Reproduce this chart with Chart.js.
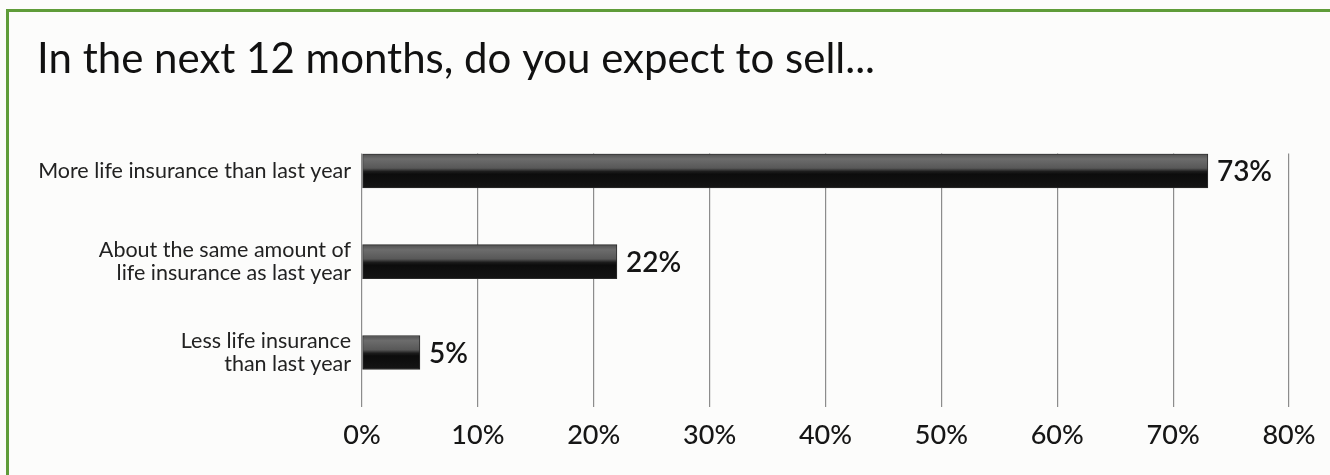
<!DOCTYPE html>
<html>
<head>
<meta charset="utf-8">
<script src="https://cdn.jsdelivr.net/npm/chart.js@4"></script>
<style>
  html, body { margin: 0; padding: 0; background: #fcfcfb; }
  #wrap { position: relative; width: 1330px; height: 475px; overflow: hidden; }
  #frame {
    position: absolute; left: 6px; top: 9px; width: 1400px; height: 600px;
    border-top: 3px solid #5f9c39; border-left: 3px solid #5f9c39;
  }
  canvas { position: absolute; left: 0; top: 0; }
</style>
</head>
<body>
<div id="wrap">
  <div id="frame"></div>
  <canvas id="chart" width="1330" height="475"></canvas>
</div>
<script>
// answers, in the order they are listed
const answers = [
  ['More life insurance than last year'],
  ['About the same amount of', 'life insurance as last year'],
  ['Less life insurance', 'than last year']
];
const shares = [73, 22, 5];          // percent of respondents
const pctTicks = [0, 10, 20, 30, 40, 50, 60, 70, 80];

const BAR_H = 34;
const FONT = 'Lato, "Open Sans", sans-serif';

// grey-over-black fill, computed per bar from the y scale
function barFill(ctx) {
  const chart = ctx.chart;
  const ys = chart.scales.y;
  if (!chart.chartArea || !ys) return '#222';
  const c = ys.getPixelForValue(ctx.dataIndex);
  const g = chart.ctx.createLinearGradient(0, c - BAR_H / 2, 0, c + BAR_H / 2);
  g.addColorStop(0, '#505050');
  g.addColorStop(0.15, '#6c6c6c');
  g.addColorStop(0.42, '#585858');
  g.addColorStop(0.52, '#1c1c1c');
  g.addColorStop(0.6, '#0c0c0c');
  g.addColorStop(1, '#141414');
  return g;
}

// percent label to the right of each bar
const valueLabels = {
  id: 'valueLabels',
  afterDatasetsDraw(chart) {
    const ctx = chart.ctx;
    const meta = chart.getDatasetMeta(0);
    ctx.save();
    ctx.font = '600 28px ' + FONT;
    ctx.fillStyle = '#151515';
    ctx.textAlign = 'left';
    ctx.textBaseline = 'middle';
    meta.data.forEach((bar, i) => {
      ctx.fillText(shares[i] + '%', bar.x + 9, bar.y + 1);
    });
    ctx.restore();
  }
};

new Chart(document.getElementById('chart'), {
  type: 'bar',
  data: {
    datasets: [{
      data: shares.map((v, i) => ({ x: v, y: i })),
      backgroundColor: barFill,
      borderColor: '#2a2a2a',
      borderWidth: 1,
      borderSkipped: false,
      barThickness: BAR_H
    }]
  },
  options: {
    indexAxis: 'y',
    responsive: false,
    animation: false,
    layout: { padding: { left: 37, right: 41, top: 0, bottom: 0 } },
    plugins: {
      legend: { display: false },
      tooltip: { enabled: false },
      title: {
        display: true,
        text: 'In the next 12 months, do you expect to sell...',
        align: 'start',
        color: '#111',
        font: { family: FONT, size: 42, weight: 'normal' },
        padding: { top: 34, bottom: 69 }
      }
    },
    scales: {
      x: {
        type: 'linear',
        min: 0,
        max: 80,
        afterBuildTicks(scale) { scale.ticks = pctTicks.map(v => ({ value: v })); },
        grid: { color: '#8c8c8c', lineWidth: 1.2, drawTicks: false },
        border: { display: false },
        ticks: {
          color: '#161616',
          padding: 12,
          font: { family: FONT, size: 27, weight: '500' },
          callback: v => v + '%'
        },
        afterFit(scale) { scale.height = 68; }
      },
      y: {
        type: 'linear',
        offset: false,
        reverse: true,
        min: -0.192,
        max: 2.6,
        afterBuildTicks(scale) { scale.ticks = answers.map((a, i) => ({ value: i })); },
        grid: { display: false, drawTicks: false },
        border: { display: false },
        ticks: {
          color: '#222',
          padding: 11,
          font: { family: FONT, size: 21.5, lineHeight: 1.05 },
          callback: (v) => answers[v]
        },
        afterFit(scale) { scale.width = 325; }
      }
    }
  },
  plugins: [valueLabels]
});
</script>
</body>
</html>
